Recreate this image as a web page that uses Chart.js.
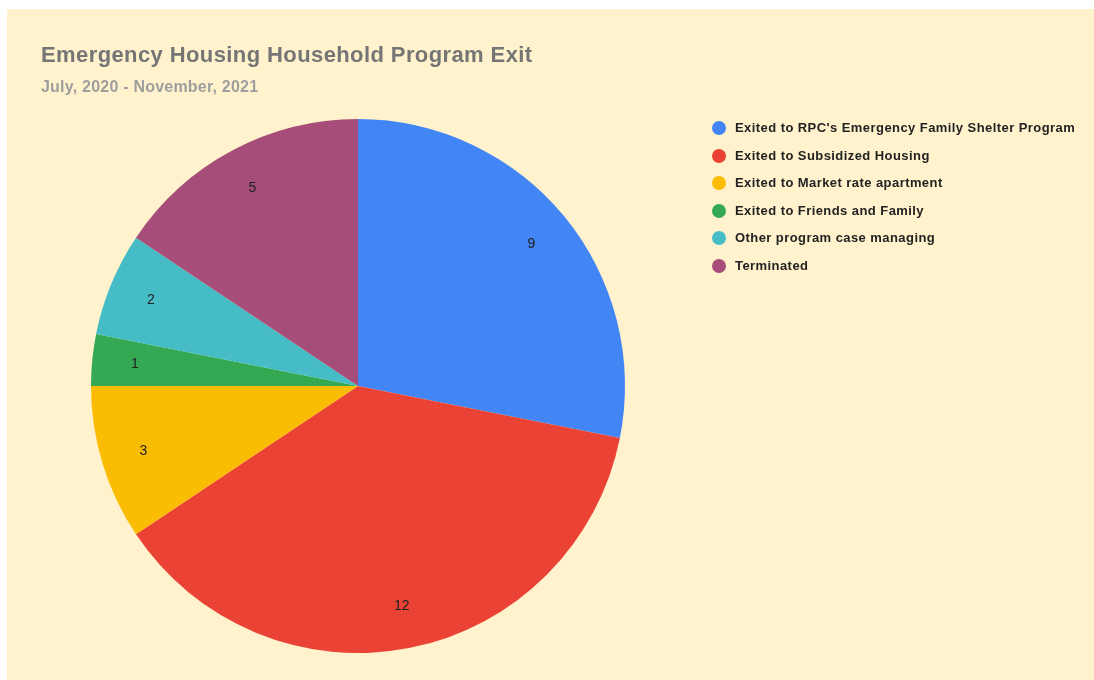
<!DOCTYPE html>
<html>
<head>
<meta charset="utf-8">
<script src="https://cdn.jsdelivr.net/npm/chart.js@4/dist/chart.umd.min.js"></script>
<style>
  html, body { margin:0; padding:0; background:#ffffff; width:1094px; height:680px; overflow:hidden; font-family:"Liberation Sans", Arial, sans-serif; }
  #card { position:absolute; left:7px; top:9px; width:1087px; height:671px; background:#FFF2CC; }
  #c { position:absolute; left:0; top:0; }
  #title { position:absolute; left:41px; top:42px; font-size:22px; letter-spacing:0.4px; font-weight:bold; color:#757575; white-space:nowrap; }
  #subtitle { position:absolute; left:41px; top:78px; font-size:16px; letter-spacing:0.22px; font-weight:bold; color:#9e9e9e; white-space:nowrap; }
  #legend { position:absolute; left:712px; top:119px; }
  .item { position:relative; height:27.5px; font-size:13px; letter-spacing:0.43px; font-weight:bold; color:#222; white-space:nowrap; }
  .dot { position:absolute; left:0; top:2px; width:14px; height:14px; border-radius:50%; }
  .lab { position:absolute; left:23px; top:1px; }
</style>
</head>
<body>
<div id="card"></div>
<canvas id="c" width="1094" height="680"></canvas>
<div id="title"></div>
<div id="subtitle"></div>
<div id="legend"></div>
<script>
const titleText = "Emergency Housing Household Program Exit";
const subtitleText = "July, 2020 - November, 2021";
const categories = [
  "Exited to RPC's Emergency Family Shelter Program",
  "Exited to Subsidized Housing",
  "Exited to Market rate apartment",
  "Exited to Friends and Family",
  "Other program case managing",
  "Terminated"
];
const values = [9, 12, 3, 1, 2, 5];
const colors = ["#4285F4", "#EA4335", "#FBBC04", "#34A853", "#46BDC6", "#A64D79"];

document.getElementById('title').textContent = titleText;
document.getElementById('subtitle').textContent = subtitleText;
const leg = document.getElementById('legend');
categories.forEach((c, i) => {
  const d = document.createElement('div'); d.className = 'item';
  const dot = document.createElement('span'); dot.className = 'dot'; dot.style.background = colors[i];
  const lab = document.createElement('span'); lab.className = 'lab'; lab.textContent = c;
  d.appendChild(dot); d.appendChild(lab); leg.appendChild(d);
});

const valueLabels = {
  id: 'valueLabels',
  afterDatasetsDraw(chart) {
    const ctx = chart.ctx;
    const meta = chart.getDatasetMeta(0);
    ctx.save();
    ctx.font = '14px "Liberation Sans", Arial, sans-serif';
    ctx.fillStyle = '#222222';
    ctx.textAlign = 'center';
    ctx.textBaseline = 'middle';
    meta.data.forEach((arc, i) => {
      const p = arc.getProps(['x','y','startAngle','endAngle','outerRadius'], true);
      const mid = (p.startAngle + p.endAngle) / 2;
      const r = p.outerRadius * 0.84;
      ctx.fillText(String(values[i]), p.x + Math.cos(mid) * r, p.y + Math.sin(mid) * r);
    });
    ctx.restore();
  }
};

new Chart(document.getElementById('c'), {
  type: 'pie',
  data: {
    labels: categories,
    datasets: [{ data: values, backgroundColor: colors, borderWidth: 0 }]
  },
  options: {
    responsive: false,
    animation: false,
    layout: { padding: { left: 91, top: 119, right: 469, bottom: 27 } },
    plugins: { legend: { display: false }, tooltip: { enabled: false }, title: { display: false } }
  },
  plugins: [valueLabels]
});
</script>
</body>
</html>
